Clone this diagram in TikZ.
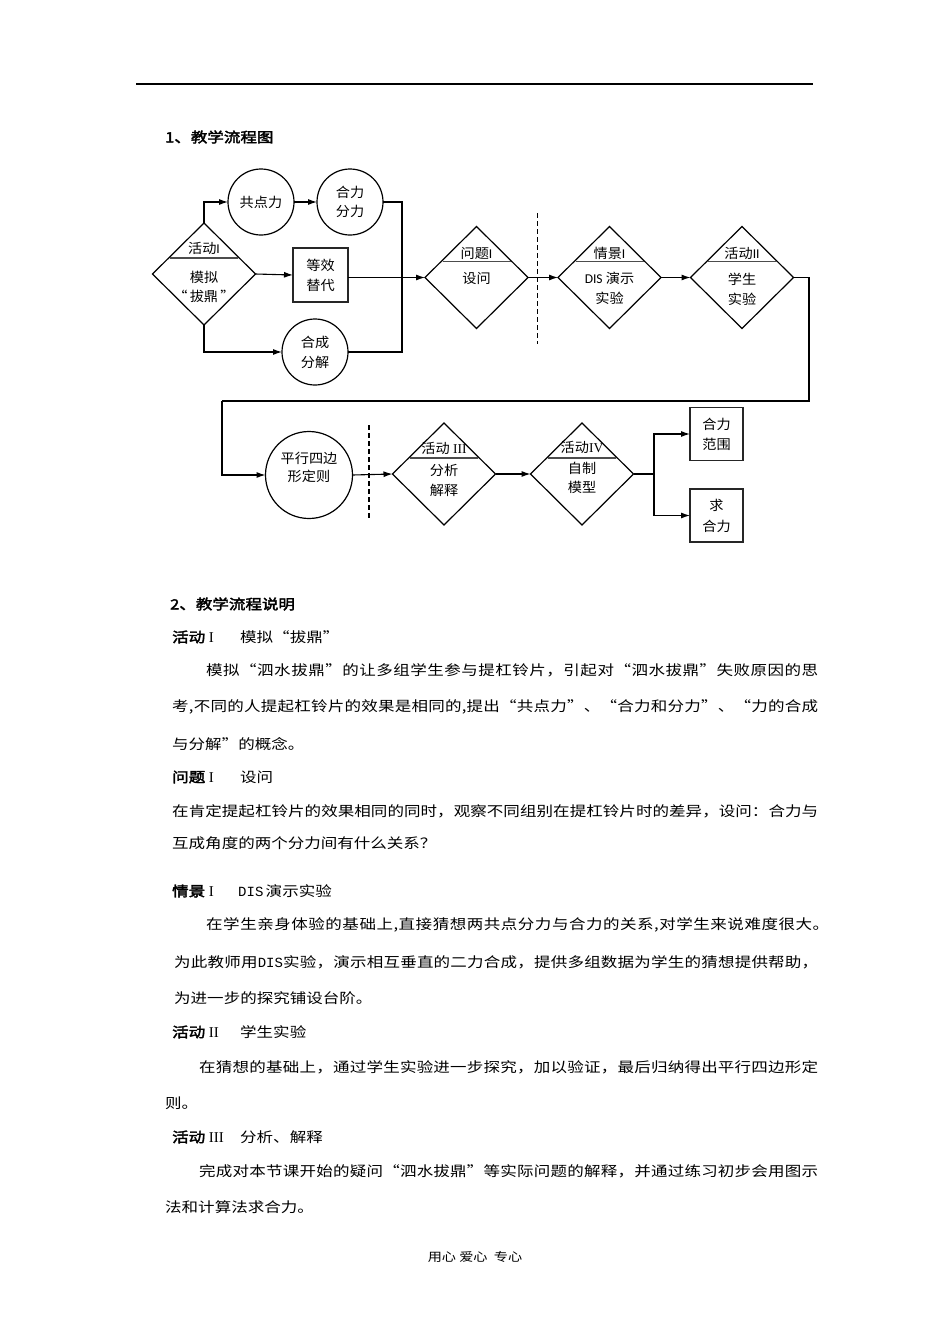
\documentclass[tikz,border=0pt]{standalone}
\usepackage{fontspec}
\usetikzlibrary{arrows.meta,shapes.geometric}
\newfontfamily\cjk[FakeStretch=1.18]{Noto Sans CJK SC}
\newfontfamily\cjkb[FakeStretch=1.18,FakeBold=2.5]{Noto Sans CJK SC}
\newfontfamily\dfont[FakeStretch=1.05]{Noto Sans CJK SC}
\newfontfamily\calf{Carlito}
\newfontfamily\lser{Liberation Serif}
\newfontfamily\lmono{Liberation Mono}
\def\jst#1{#1\jstb}
\def\jstb#1{\ifx\relax#1\else\hskip0pt plus 1fil#1\expandafter\jstb\fi}
\tikzset{
  ln/.style={line width=1.1pt, draw=black},
  arr/.style={ln, -{Latex[length=9pt,width=6pt]}},
  dshape/.style={diamond, draw, line width=1.2pt, minimum width=103pt, minimum height=102pt, inner sep=0pt, outer sep=0pt},
  cshape/.style={circle, draw, line width=1.2pt, inner sep=0pt, outer sep=0pt},
  rshape/.style={rectangle, draw=black!85, line width=1.6pt, inner sep=0pt, outer sep=0pt},
  dtext/.style={inner sep=0pt, font=\dfont\fontsize{13.5}{15}\selectfont},
  divider/.style={line width=1.6pt, draw=black!70},
  dashline/.style={line width=1.4pt, dash pattern=on 5pt off 3pt},
  body/.style={anchor=west, inner sep=0pt, font=\cjk\fontsize{14}{16}\selectfont},
  head/.style={anchor=west, inner sep=0pt, font=\cjkb\fontsize{14}{16}\selectfont},
}
\begin{document}
\begin{tikzpicture}[x=1pt,y=-1pt]
\fill[white] (0,0) rectangle (950,1344);
\useasboundingbox (0,0) rectangle (950,1344);

% top rule and title
\coordinate (ruleL) at (136,84);
\coordinate (ruleR) at (813,84);
\draw[line width=1.5pt] (ruleL) -- (ruleR);
\node[head] (t1) at (165,137) {1、教学流程图};

% ---------- flow chart, row 1 ----------
\node[dshape] (a1) at (204,274) {};
\draw[divider] ([xshift=-34pt,yshift=16pt]a1.center) -- ([xshift=34pt,yshift=16pt]a1.center);
\node[dtext] (a1t) at (204,248) {活动{\calf\fontsize{13.5}{15}\selectfont I}};
\node[dtext] (a1b) at (204,277) {模拟};
\node[dtext] (a1c) at (204,296) {“\,拔鼎\,”};

\node[cshape, minimum size=66pt] (gdl) at (261,202) {};
\node[dtext] at (gdl) {共点力};
\node[cshape, minimum size=66pt] (hlfl) at (350,202) {};
\node[dtext, align=center] at (hlfl) {合力\\[4pt]分力};

\node[rshape, minimum width=55pt, minimum height=54pt] (dxtd) at (320.5,275) {};
\node[dtext, align=center] at (dxtd) {等效\\[5pt]替代};

\node[cshape, minimum size=66pt] (hcfj) at (315,352) {};
\node[dtext, align=center] at (hcfj) {合成\\[5pt]分解};

\node[dshape] (wt1) at (476.5,277.5) {};
\draw[divider] ([xshift=-34pt,yshift=16pt]wt1.center) -- ([xshift=34pt,yshift=16pt]wt1.center);
\node[dtext] at (476.5,253) {问题{\calf\fontsize{13.5}{15}\selectfont I}};
\node[dtext] at (476.5,278) {设问};

\node[dshape] (qj1) at (609.5,277.5) {};
\draw[divider] ([xshift=-34pt,yshift=16pt]qj1.center) -- ([xshift=34pt,yshift=16pt]qj1.center);
\node[dtext] at (609.5,253) {情景{\calf\fontsize{13.5}{15}\selectfont I}};
\node[dtext] at (609.5,278) {{\calf\fontsize{13.5}{15}\selectfont DIS} 演示};
\node[dtext] at (609.5,298) {实验};

\node[dshape] (hd2) at (742,277.5) {};
\draw[divider] ([xshift=-34pt,yshift=16pt]hd2.center) -- ([xshift=34pt,yshift=16pt]hd2.center);
\node[dtext] at (742,253) {活动{\calf\fontsize{13.5}{15}\selectfont II}};
\node[dtext] at (742,279) {学生};
\node[dtext] at (742,299) {实验};

\coordinate (d1t) at (537.5,213);
\coordinate (d1b) at (537.5,344);
\draw[dashline] (d1t) -- (d1b);

% ---------- flow chart, row 2 ----------
\node[cshape, minimum size=87pt] (pxsb) at (309,475) {};
\node[dtext, align=center] at (309,467) {平行四边\\[3pt]形定则};

\node[dshape] (hd3) at (444,474) {};
\draw[divider] ([xshift=-34pt,yshift=16pt]hd3.center) -- ([xshift=34pt,yshift=16pt]hd3.center);
\node[dtext] at (444,448) {活动 {\lser\fontsize{13.5}{15}\selectfont III}};
\node[dtext] at (444,470) {分析};
\node[dtext] at (444,490) {解释};

\node[dshape] (hd4) at (582,474) {};
\draw[divider] ([xshift=-34pt,yshift=16pt]hd4.center) -- ([xshift=34pt,yshift=16pt]hd4.center);
\node[dtext] at (582,447) {活动{\lser\fontsize{13.5}{15}\selectfont IV}};
\node[dtext] at (582,468) {自制};
\node[dtext] at (582,487) {模型};

\node[rshape, minimum width=53pt, minimum height=53pt, line width=1.4pt] (hlfw) at (716.5,434) {};
\node[dtext, align=center] at (hlfw) {合力\\[5pt]范围};
\node[rshape, minimum width=53pt, minimum height=53pt, line width=1.4pt] (qhl) at (716.5,515.5) {};
\node[dtext, align=center] at (qhl) {求\\[6pt]合力};

\coordinate (d2t) at (369,425);
\coordinate (d2b) at (369,518);
\draw[dashline] (d2t) -- (d2b);

% ---------- connectors ----------
\coordinate (jt) at (402,202);
\coordinate (jb) at (402,352);
\coordinate (r1) at (809,277.5);
\coordinate (r2) at (809,401);
\coordinate (r3) at (222,401);
\coordinate (br) at (654,474);

\draw[arr] (a1.north) |- (gdl.west);
\draw[arr] (gdl.east) -- (hlfl.west);
\draw[arr] (a1.east) -- (dxtd.west);
\draw[arr] (a1.south) |- (hcfj.west);
\draw[ln] (hlfl.east) -- (jt) -- (jb) -- (hcfj.east);
\draw[arr] (dxtd.east |- wt1.west) -- (wt1.west);
\draw[arr] (wt1.east) -- (qj1.west);
\draw[arr] (qj1.east) -- (hd2.west);
\draw[ln] (hd2.east) -- (r1) -- (r2) -- (r3);
\draw[arr] (r3) |- (pxsb.west);
\draw[arr] (pxsb.east) -- (hd3.west);
\draw[arr] (hd3.east) -- (hd4.west);
\draw[ln] (hd4.east) -- (br);
\draw[arr] (br) |- (hlfw.west);
\draw[arr] (br) |- (qhl.west);

% ---------- description text ----------
\node[head] (h2) at (170,604) {2、教学流程说明};

\node[head] (s1h) at (172,637) {活动{\lser\fontsize{15}{16}\selectfont\ I}};
\node[body] (s1t) at (240,637) {模拟“拔鼎”};
\node[body] (p1a) at (206,670) {\makebox[612pt][s]{\jst 模拟“泗水拔鼎”的让多组学生参与提杠铃片，引起对“泗水拔鼎”失败原因的思\relax}};
\node[body] (p1b) at (172,707) {\makebox[646pt][s]{\jst 考,不同的人提起杠铃片的效果是相同的,提出“共点力”、“合力和分力”、“力的合成\relax}};
\node[body] (p1c) at (172,744) {与分解”的概念。};

\node[head] (s2h) at (172,777) {问题{\lser\fontsize{15}{16}\selectfont\ I}};
\node[body] (s2t) at (240,777) {设问};
\node[body] (p2a) at (172,811) {\makebox[646pt][s]{\jst 在肯定提起杠铃片的效果相同的同时，观察不同组别在提杠铃片时的差异，设问：合力与\relax}};
\node[body] (p2b) at (172,843) {互成角度的两个分力间有什么关系？};

\node[head] (s3h) at (172,891) {情景{\lser\fontsize{15}{16}\selectfont\ I}};
\node[body] (s3t) at (238,891) {{\lmono\fontsize{14}{16}\selectfont DIS}\,演示实验};
\node[body] (p3a) at (206,925) {\makebox[623pt][s]{\jst 在学生亲身体验的基础上,直接猜想两共点分力与合力的关系,对学生来说难度很大。\relax}};
\node[body] (p3b) at (174,962) {\makebox[644pt][s]{\jst 为此教师用{{\lmono\fontsize{14}{16}\selectfont DIS}}实验，演示相互垂直的二力合成，提供多组数据为学生的猜想提供帮助，\relax}};
\node[body] (p3c) at (174,998) {为进一步的探究铺设台阶。};

\node[head] (s4h) at (172,1032) {活动{\lser\fontsize{15}{16}\selectfont\ II}};
\node[body] (s4t) at (240,1032) {学生实验};
\node[body] (p4a) at (199,1067) {\makebox[619pt][s]{\jst 在猜想的基础上，通过学生实验进一步探究，加以验证，最后归纳得出平行四边形定\relax}};
\node[body] (p4b) at (165,1103) {则。};

\node[head] (s5h) at (172,1137) {活动{\lser\fontsize{15}{16}\selectfont\ III}};
\node[body] (s5t) at (240,1137) {分析、解释};
\node[body] (p5a) at (199,1171) {\makebox[619pt][s]{\jst 完成对本节课开始的疑问“泗水拔鼎”等实际问题的解释，并通过练习初步会用图示\relax}};
\node[body] (p5b) at (165,1207) {法和计算法求合力。};

\node[inner sep=0pt, font=\cjk\fontsize{12}{14}\selectfont] (foot) at (475,1257) {用心\ 爱心\ \ 专心};
\end{tikzpicture}
\end{document}
